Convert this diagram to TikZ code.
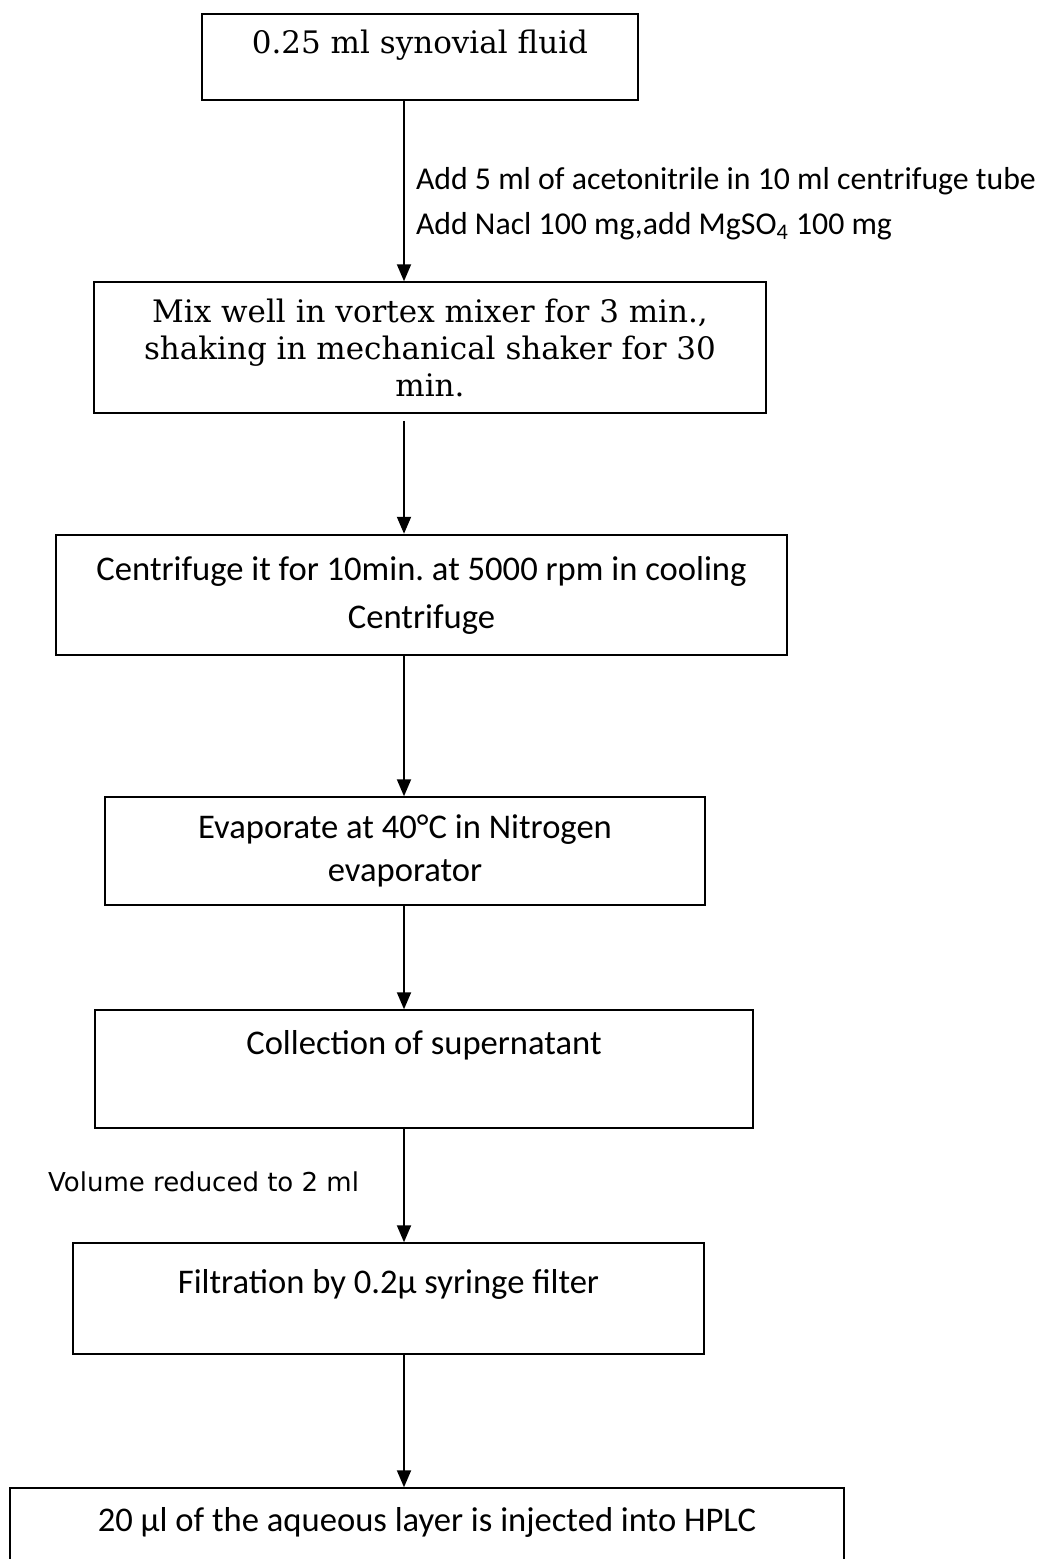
\documentclass[tikz,border=0pt]{standalone}
\usepackage{fontspec}
\usepackage{tikz}
\usetikzlibrary{arrows.meta}
\newfontfamily\serifbox{DejaVu Serif}
\newfontfamily\calibribox{Carlito}
\newfontfamily\verdananote{DejaVu Sans}
\newcommand{\liftby}[2]{\raisebox{#1}[\height][\depth]{#2}}
\frenchspacing

\begin{document}
\begin{tikzpicture}[x=0.5pt, y=-0.5pt, line width=0.75pt,
    stage/.style={draw, inner sep=0pt, align=center},
    serifstage/.style={stage, font=\serifbox\fontsize{15.5}{18.5}\selectfont},
    sansstage/.style={stage, font=\calibribox\fontsize{17.3}{24}\selectfont},
    flow/.style={line width=1pt, -{Triangle[width=7pt,length=8.5pt]}}]
    \useasboundingbox (0,0) rectangle (1039,1559);
    \clip (0,0) rectangle (1039,1559);

    \coordinate (axis) at (404,0);

    % steps
    \node [serifstage, minimum width=218pt, minimum height=43pt] (fluid) at (420,57) {\liftby{6pt}{0.25 ml synovial fluid}};
    \node [serifstage, minimum width=336pt, minimum height=65.5pt] (mixing) at (430,347.5) {Mix well in vortex mixer for 3 min.,\\ shaking in mechanical shaker for 30\\ min.};
    \node [sansstage, line width=1.25pt, minimum width=365.5pt, minimum height=60pt] (centrifuge) at (421.5,595) {Centrifuge it for 10min. at 5000 rpm in cooling\\ Centrifuge};
    \node [sansstage, font=\calibribox\fontsize{17.3}{21.5}\selectfont, minimum width=300pt, minimum height=54pt] (evaporate) at (405,851) {Evaporate at 40°C in Nitrogen\\ evaporator};
    \node [sansstage, minimum width=329pt, minimum height=59pt] (supernatant) at (424,1069) {\liftby{12pt}{Collection of supernatant}};
    \node [sansstage, minimum width=315.5pt, minimum height=55.5pt] (filtration) at (388.5,1298.5) {\liftby{7pt}{Filtration by 0.2µ syringe filter}};
    \node [sansstage, minimum width=417pt, minimum height=56pt] (hplc) at (427,1544) {\liftby{11pt}{20 µl of the aqueous layer is injected into HPLC}};

    % arrows
    \draw [flow] (fluid.south -| axis) -- node [right=5.5pt, inner sep=0pt, pos=0.57, align=left, font=\calibribox\fontsize{15.9}{22.5}\selectfont] (reagents) {Add 5 ml of acetonitrile in 10 ml centrifuge tube\\ Add Nacl 100 mg,add MgSO\textsubscript{4} 100 mg} (mixing.north -| axis);
    \draw [flow, shorten <=3.5pt] (mixing.south -| axis) -- (centrifuge.north -| axis);
    \draw [flow] (centrifuge.south -| axis) -- (evaporate.north -| axis);
    \draw [flow] (evaporate.south -| axis) -- (supernatant.north -| axis);
    \draw [flow] (supernatant.south -| axis) -- node [left=22pt, inner sep=0pt, pos=0.47, font=\verdananote\fontsize{13}{15}\selectfont] (volume) {Volume reduced to 2 ml} (filtration.north -| axis);
    \draw [flow] (filtration.south -| axis) -- (hplc.north -| axis);

\end{tikzpicture}
\end{document}
